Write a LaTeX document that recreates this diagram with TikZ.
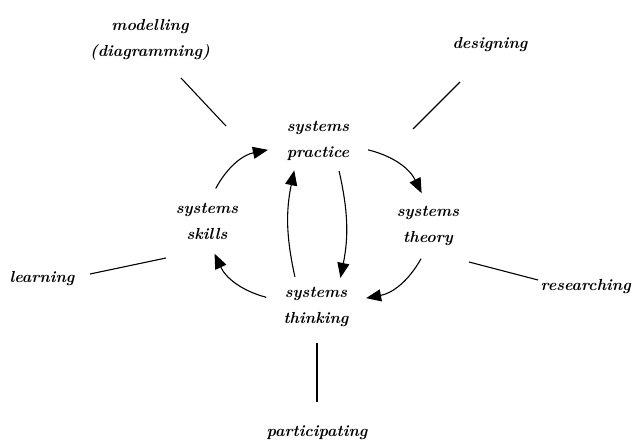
\documentclass[tikz,border=0pt]{standalone}
\usetikzlibrary{arrows.meta,shapes.geometric}
\begin{document}
\begin{tikzpicture}[x=1pt,y=-1pt,
  lbl/.style={font=\fontsize{16}{26}\selectfont\bfseries\itshape, align=center, inner sep=0pt},
  hub/.style={lbl, ellipse, minimum width=104pt, minimum height=66pt, outer sep=0pt},
  cyc/.style={line width=1.1pt, -{Triangle[length=15pt,width=12pt]}},
  spoke/.style={line width=1.1pt}]
\useasboundingbox (0,0) rectangle (632,446);
% hubs
\node[hub] (pr) at (318,141) {systems\\practice};
\node[hub] (th) at (428,226) {systems\\theory};
\node[hub] (sk) at (207,221) {systems\\skills};
\node[hub] (tk) at (316,307) {systems\\thinking};
% satellites
\node[lbl] (mod) at (150,40) {modelling\\(diagramming)};
\node[lbl] (des) at (490,45) {designing};
\node[lbl] (lea) at (42,279) {learning};
\node[lbl, anchor=east] (res) at (631,287) {researching};
\node[lbl] (par) at (317,433) {participating};
% spoke ends
\coordinate (m1) at (181,78);  \coordinate (m2) at (226,126);
\coordinate (d1) at (460,82);  \coordinate (d2) at (413,129);
\coordinate (l1) at (90,274);  \coordinate (l2) at (166,258);
\coordinate (r1) at (469,262); \coordinate (r2) at (538,280);
\coordinate (p1) at (317,343); \coordinate (p2) at (317,402);
\draw[spoke] (m1) -- (m2);
\draw[spoke] (d1) -- (d2);
\draw[spoke] (l1) -- (l2);
\draw[spoke] (r1) -- (r2);
\draw[spoke] (p1) -- (p2);
% cycle arrows
\draw[cyc] (sk.75) to[bend left=25] (pr.190);
\draw[cyc] (pr.350) to[bend left=25] (th.101);
\draw[cyc] (th.258) to[bend left=25] (tk.10);
\draw[cyc] (tk.169) to[bend left=25] (sk.283);
\draw[cyc] (pr.305) to[bend left=12] (tk.50);
\draw[cyc] (tk.125) to[bend left=12] (pr.231);
\end{tikzpicture}
\end{document}
